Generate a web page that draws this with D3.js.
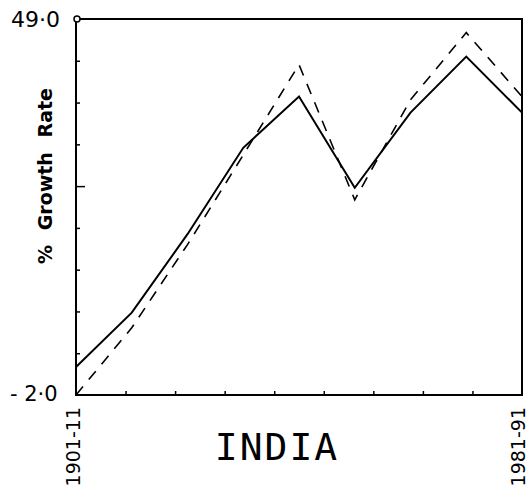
<!DOCTYPE html>
<html>
<head>
<meta charset="utf-8">
<script src="https://cdn.jsdelivr.net/npm/d3@7"></script>
<style>
  body { margin: 0; background: #fff; }
  svg { display: block; }
</style>
</head>
<body>
<script>
// decades and growth rates (%)
let periods = ['1901-11', '1911-21', '1921-31', '1931-41', '1941-51', '1951-61', '1961-71', '1971-81', '1981-91'];
let solidRates = [5.5, 12.3, 22.1, 32.9, 39.3, 27.9, 37.3, 44.3, 37.3];
let dashedRates = [2.0, 10.4, 20.8, 32.0, 43.3, 26.4, 38.9, 47.3, 39.3];
let yLabels = ['2·0', '49·0'];
let xLabels = ['1901-11', '1981-91'];
let gridSteps = [1, 2, 3, 4, 5, 6, 7, 8];

let plotLeft = 76, plotRight = 522, plotTop = 19, plotBottom = 395;

let svg = d3.select('body').append('svg').attr('width', 529).attr('height', 493);

let x = d3.scalePoint().domain(periods).range([plotLeft, plotRight]);
let y = d3.scaleLinear().domain([2, 49]).range([plotBottom, plotTop]);
let grid = d3.scaleLinear().domain([0, 9]);

// frame
svg.append('rect')
  .attr('x', plotLeft).attr('y', plotTop)
  .attr('width', plotRight - plotLeft).attr('height', plotBottom - plotTop)
  .attr('fill', 'none').attr('stroke', 'black').attr('stroke-width', 2);

// inward ticks
let yAxis = d3.axisRight(grid.copy().range([plotBottom, plotTop]))
  .tickValues(gridSteps).tickSize(4).tickFormat('');
svg.append('g').attr('transform', 'translate(' + plotLeft + ',0)').call(yAxis)
  .call(g => g.select('.domain').remove())
  .selectAll('line').attr('stroke-width', 1.5)
  .attr('x2', function(d) { return d === 5 ? 9 : 4; });

let xAxis = d3.axisTop(grid.copy().range([plotLeft, plotRight]))
  .tickValues(gridSteps).tickSize(4).tickFormat('');
svg.append('g').attr('transform', 'translate(0,' + plotBottom + ')').call(xAxis)
  .call(g => g.select('.domain').remove())
  .selectAll('line').attr('stroke-width', 1.5);

// small circle at the top-left corner
svg.append('circle').attr('cx', plotLeft + 1).attr('cy', plotTop).attr('r', 3)
  .attr('fill', 'white').attr('stroke', 'black').attr('stroke-width', 1.5);

let line = d3.line()
  .x(function(d, i) { return x(periods[i]); })
  .y(function(d) { return y(d); });

svg.append('path').datum(solidRates)
  .attr('d', line)
  .attr('fill', 'none').attr('stroke', 'black').attr('stroke-width', 2);

svg.append('path').datum(dashedRates)
  .attr('d', line)
  .attr('fill', 'none').attr('stroke', 'black').attr('stroke-width', 1.6)
  .attr('stroke-dasharray', '11,9');

// y end labels
svg.append('text').attr('x', 11).attr('y', 27)
  .attr('font-family', 'DejaVu Sans').attr('font-size', '22px')
  .text(yLabels[1]);
svg.append('text').attr('x', 10).attr('y', 401)
  .attr('font-family', 'DejaVu Sans').attr('font-size', '21px')
  .text('- ' + yLabels[0]);

// x end labels, rotated
svg.selectAll('.xlab').data(xLabels).enter().append('text')
  .attr('class', 'xlab')
  .attr('transform', function(d) {
    return 'translate(' + (d === xLabels[0] ? x(d) - 3 : x(d) - 4) + ',407) rotate(-90)';
  })
  .attr('text-anchor', 'end').attr('dy', '0.35em')
  .attr('font-family', 'DejaVu Sans').attr('font-size', '19px')
  .text(function(d) { return d; });

// y axis title
svg.append('text')
  .attr('transform', 'translate(45,176) rotate(-90)')
  .attr('text-anchor', 'middle').attr('dy', '0.35em')
  .attr('font-family', 'DejaVu Sans').attr('font-weight', 'bold').attr('font-size', '19px')
  .attr('word-spacing', '8px')
  .text('% Growth Rate');

// title
svg.append('text').attr('x', 277).attr('y', 460)
  .attr('text-anchor', 'middle')
  .attr('font-family', 'DejaVu Sans Mono').attr('font-size', '38px')
  .attr('letter-spacing', '2px')
  .text('INDIA');
</script>
</body>
</html>
